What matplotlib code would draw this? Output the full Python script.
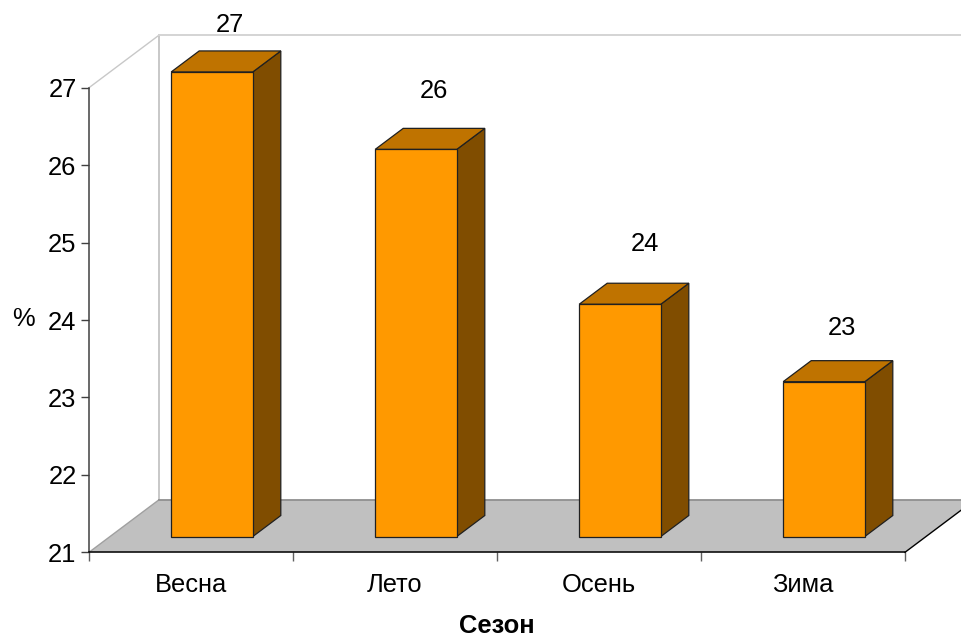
import matplotlib.pyplot as plt
from matplotlib.patches import Polygon

plt.rcParams["font.family"] = ["Liberation Sans", "DejaVu Sans"]

seasons = ["Весна", "Лето", "Осень", "Зима"]
values = [27, 26, 24, 23]
y_ticks = [21, 22, 23, 24, 25, 26, 27]

# label shifts from the top of each bar, pixels
label_dx = [18, 18, 25, 18]
label_dy = [47, 58, 60, 54]

W, H = 962, 637
DPI = 100
FS = 18.4

# front plane of the fake 3d box, pixels
LEFT, RIGHT, BOTTOM, TOP = 89, 905, 552.3, 87.7
DEPTH_X = 70 / 204
DEPTH_Y = 52.5 / 77.4
BASE = 21
BAR_W = 0.4
Z_FRONT = 0.3
Z_BACK = 0.7

ORANGE = "#ff9900"
ORANGE_TOP = "#bf7300"
ORANGE_SIDE = "#804d00"
FLOOR = "#c0c0c0"


def pr(x, y, z=0.0):
    return x + DEPTH_X * z, y + DEPTH_Y * z


fig = plt.figure(figsize=(W / DPI, H / DPI), dpi=DPI)
ax = fig.add_axes([LEFT / W, 1 - BOTTOM / H, (RIGHT - LEFT) / W, (BOTTOM - TOP) / H])
ax.set_xlim(0, len(seasons))
ax.set_ylim(BASE, max(y_ticks))
ax.patch.set_visible(False)

n = len(seasons)
top_val = max(y_ticks)

# floor
ax.add_patch(Polygon([pr(0, BASE), pr(n, BASE), pr(n, BASE, 1), pr(0, BASE, 1)],
                     facecolor=FLOOR, edgecolor="none", clip_on=False, zorder=1))
ax.plot(*zip(pr(0, BASE), pr(0, BASE, 1)), color="#a0a0a0", lw=1, clip_on=False, zorder=2)
ax.plot(*zip(pr(0, BASE, 1), pr(n, BASE, 1)), color="#909090", lw=1.3, clip_on=False, zorder=2)
ax.plot(*zip(pr(n, BASE), pr(n, BASE, 1)), color="black", lw=1, clip_on=False, zorder=2)

# walls
ax.plot(*zip(pr(0, top_val), pr(0, top_val, 1)), color="#c8c8c8", lw=1, clip_on=False, zorder=1)
ax.plot(*zip(pr(0, BASE, 1), pr(0, top_val, 1)), color="#c8c8c8", lw=1.4, clip_on=False, zorder=1)
ax.plot(*zip(pr(0, top_val, 1), pr(n, top_val, 1)), color="#d4d4d4", lw=1.4, clip_on=False, zorder=1)

# bars
for i, v in enumerate(values):
    x0 = i + 0.5 - BAR_W / 2
    x1 = i + 0.5 + BAR_W / 2
    front = [pr(x0, BASE, Z_FRONT), pr(x1, BASE, Z_FRONT), pr(x1, v, Z_FRONT), pr(x0, v, Z_FRONT)]
    side = [pr(x1, BASE, Z_FRONT), pr(x1, BASE, Z_BACK), pr(x1, v, Z_BACK), pr(x1, v, Z_FRONT)]
    lid = [pr(x0, v, Z_FRONT), pr(x1, v, Z_FRONT), pr(x1, v, Z_BACK), pr(x0, v, Z_BACK)]
    ax.add_patch(Polygon(side, facecolor=ORANGE_SIDE, edgecolor="#202020", lw=0.9, clip_on=False, zorder=3))
    ax.add_patch(Polygon(lid, facecolor=ORANGE_TOP, edgecolor="#202020", lw=0.9, clip_on=False, zorder=3))
    ax.add_patch(Polygon(front, facecolor=ORANGE, edgecolor="#202020", lw=0.9, clip_on=False, zorder=4))
    ax.annotate(str(v), xy=pr(i + 0.5, v, Z_FRONT), xytext=(label_dx[i] * 72 / DPI, label_dy[i] * 72 / DPI),
                textcoords="offset points", ha="center", va="center", fontsize=FS, annotation_clip=False)

ax.spines["top"].set_visible(False)
ax.spines["right"].set_visible(False)
ax.spines["left"].set_color("#404040")
ax.spines["left"].set_linewidth(1.1)
ax.spines["bottom"].set_color("black")
ax.spines["bottom"].set_linewidth(1.1)
ax.spines["left"].set_zorder(5)
ax.spines["bottom"].set_zorder(5)

ax.set_yticks(y_ticks)
ax.tick_params(axis="y", length=6, width=1, color="#404040", labelsize=FS, pad=3)
ax.set_xticks(range(n + 1))
ax.set_xticklabels([])
ax.tick_params(axis="x", length=6.5, width=1, color="#606060")

# season names sit between the ticks
for i, name in enumerate(seasons):
    ax.annotate(name, xy=(i + 0.5, BASE), xycoords="data", xytext=(0, -33 * 72 / DPI),
                textcoords="offset points", ha="center", va="center", fontsize=FS, annotation_clip=False)

fig.text(12 / W, 1 - 319 / H, "%", fontsize=FS, ha="left", va="center")
fig.text(497 / W, 1 - 626 / H, "Сезон", fontsize=FS, fontweight="bold", ha="center", va="center")

fig.savefig("out.png", dpi=DPI)
